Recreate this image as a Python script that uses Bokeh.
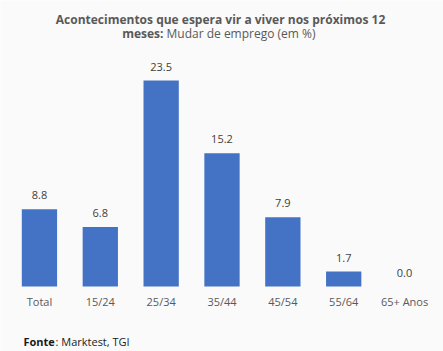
from bokeh.plotting import figure
from bokeh.models import ColumnDataSource, Label
from bokeh.core.properties import value
from bokeh.embed import file_html
from bokeh.resources import INLINE

categories = ["Total", "15/24", "25/34", "35/44", "45/54", "55/64", "65+ Anos"]
values = [8.8, 6.8, 23.5, 15.2, 7.9, 1.7, 0.0]
value_labels = ["8.8", "6.8", "23.5", "15.2", "7.9", "1.7", "0.0"]

FONT = "Open Sans"
BG = "#fafafa"

src = ColumnDataSource(dict(cat=categories, val=values, lab=value_labels,
                            base=[0.0] * len(categories)))

# frame covers the whole canvas; zero line sits at canvas y=286
p = figure(width=443, height=351, x_range=categories, y_range=(-7.415, 32.63),
           output_backend="svg", toolbar_location=None,
           min_border_left=0, min_border_right=0, min_border_top=0, min_border_bottom=0)
p.background_fill_color = BG
p.border_fill_color = BG
p.outline_line_color = None
p.grid.visible = False
p.axis.visible = False
p.x_range.range_padding = 0.14
p.x_range.range_padding_units = "absolute"

p.vbar(x="cat", top="val", width=0.58, source=src, color="#4472c4", line_color=None)
p.text(x="cat", y="val", text="lab", source=src, y_offset=-14,
       text_align="center", text_baseline="middle", text_font=value(FONT),
       text_font_size="11px", text_color="#404040")
# category labels under the bars
p.text(x="cat", y="base", text="cat", source=src, y_offset=15,
       text_align="center", text_baseline="middle", text_font=value(FONT),
       text_font_size="11px", text_color="#595959")

def lab(text, x, y, bold=False, align="left", color="#595959", size="12px"):
    # x, y are canvas coordinates (y down); frame spans the full canvas
    p.add_layout(Label(x=x, y=351 - y, x_units="screen", y_units="screen",
                       text=text, text_font=FONT, text_font_size=size,
                       text_font_style="bold" if bold else "normal",
                       text_color=color, text_align=align, text_baseline="middle"))

lab("Acontecimentos que espera vir a viver nos próximos 12", 220, 19, bold=True, align="center")
lab("meses:", 163, 33, bold=True, align="right")
lab("Mudar de emprego (em %)", 166, 33, align="left")
lab("Fonte", 23, 341, bold=True, color="#1a1a1a", size="11px")
lab(": Marktest, TGI", 55, 341, color="#1a1a1a", size="11px")

open("out.html", "w").write(file_html(p, INLINE))
